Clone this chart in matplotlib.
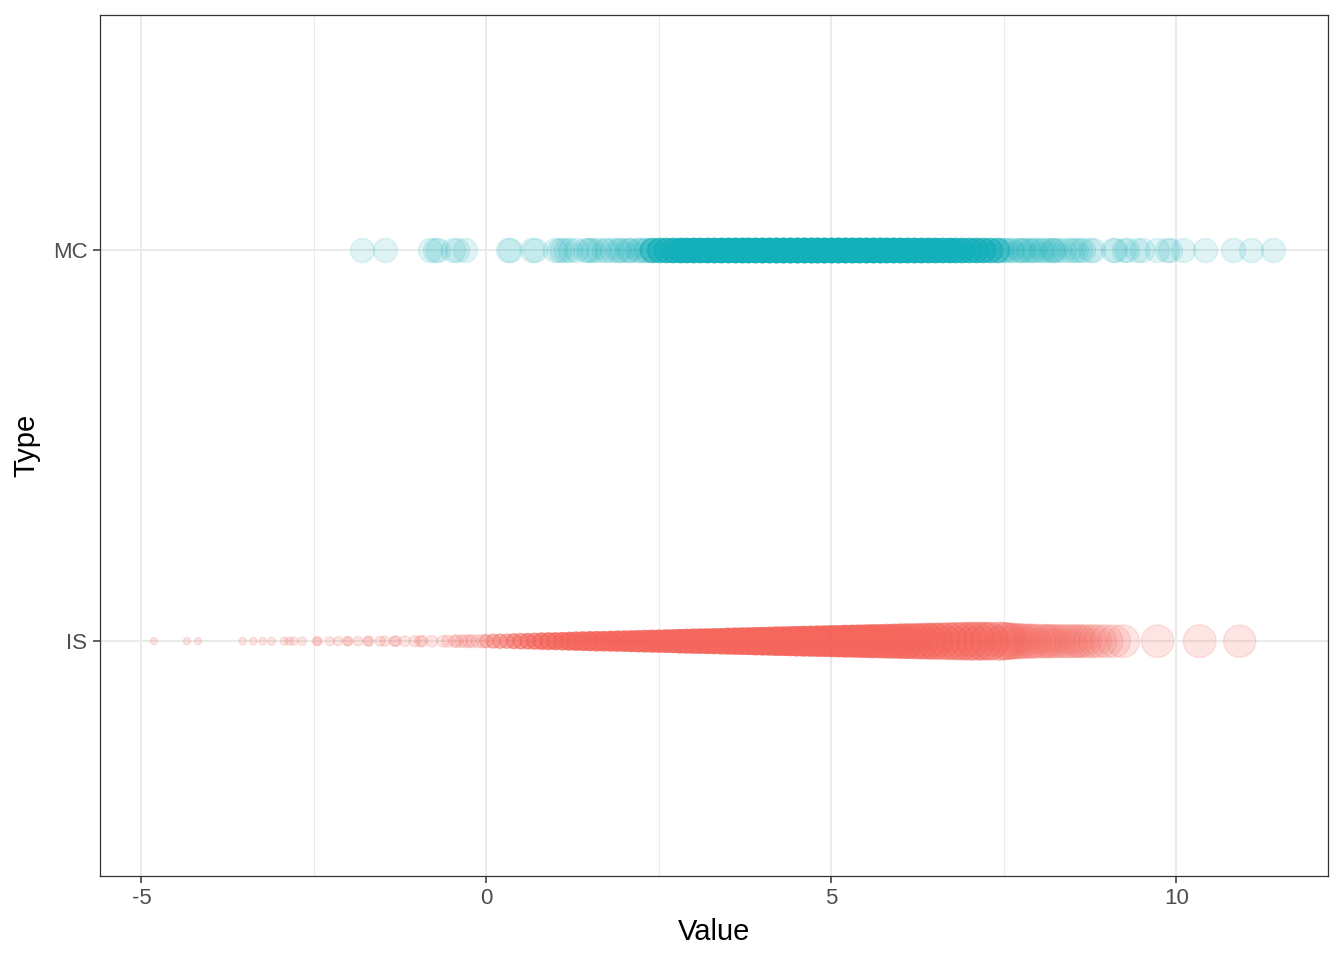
import numpy as np
import matplotlib
matplotlib.use('Agg')
import matplotlib.pyplot as plt

plt.rcParams['font.family'] = ['Liberation Sans', 'DejaVu Sans']
plt.rcParams['axes.unicode_minus'] = False

# ---- data ----
categories = ['IS', 'MC']

# MC: sparse tails as single samples, dense core as (value, count)
mc_tail_values = [-1.80, -1.47, -0.82, -0.75, -0.70, -0.48, -0.43, -0.31,
                  0.31, 0.34, 0.66, 0.70, 0.99, 1.05, 1.09, 1.15, 1.21,
                  1.30, 1.43, 1.47, 1.50, 1.55, 1.62, 1.70, 1.75, 1.82,
                  1.89, 1.93, 1.96, 2.04, 2.07, 2.10, 2.18, 2.22, 2.25,
                  2.30, 2.33, 2.38,
                  7.45, 7.48, 7.52, 7.55, 7.60, 7.62, 7.70, 7.73, 7.76,
                  7.80, 7.85, 7.88, 7.92, 7.95, 8.02, 8.05, 8.10, 8.15,
                  8.20, 8.22, 8.25, 8.30, 8.38, 8.45, 8.50, 8.55, 8.60,
                  8.65, 8.75, 8.80, 9.08, 9.11, 9.25, 9.28, 9.43, 9.50,
                  9.72, 9.86, 9.91, 10.10, 10.42, 10.83, 11.09, 11.40]
mc_core_values = [2.4, 2.5, 2.6, 2.7, 2.8, 2.9, 3.0, 3.1, 3.2, 3.3, 3.4,
                  3.5, 3.6, 3.7, 3.8, 3.9, 4.0, 4.1, 4.2, 4.3, 4.4,
                  4.5, 4.6, 4.7, 4.8, 4.9, 5.0, 5.1, 5.2, 5.3, 5.4,
                  5.5, 5.6, 5.7, 5.8, 5.9, 6.0, 6.1, 6.2, 6.3, 6.4,
                  6.5, 6.6, 6.7, 6.8, 6.9, 7.0, 7.1, 7.2, 7.3, 7.4]
mc_core_counts = [5, 7, 8, 9, 10, 11, 12, 12, 13, 13, 14,
                  15, 16, 16, 17, 17, 18, 18, 19, 19, 20,
                  20, 20, 20, 20, 20, 20, 20, 19, 19, 18,
                  18, 17, 17, 16, 16, 15, 14, 13, 12, 12,
                  11, 10, 10, 9, 9, 8, 8, 7, 6, 5]

# IS: sparse tails (value, weight), dense core (value, count, weight)
is_tail_values = [-4.82, -4.34, -4.18, -3.53, -3.38, -3.24, -3.11, -2.93,
                  -2.86, -2.79, -2.67, -2.46, -2.44, -2.27, -2.15, -2.02,
                  -2.00, -1.86, -1.72, -1.70, -1.54, -1.47, -1.33, -1.31,
                  -1.18, -1.04, -0.96, -0.93, -0.79, -0.63, -0.56, -0.46,
                  -0.43, -0.36, -0.30, -0.25, -0.20, -0.12, -0.05,
                  7.40, 7.45, 7.49, 7.52, 7.55, 7.58, 7.62, 7.66, 7.70,
                  7.74, 7.78, 7.83, 7.88, 7.92, 7.95, 8.02, 8.08, 8.12,
                  8.16, 8.20, 8.25, 8.30, 8.36, 8.41, 8.47, 8.53, 8.58,
                  8.62, 8.68, 8.75, 8.82, 8.90, 8.99, 9.10, 9.23, 9.73,
                  10.34, 10.92]
is_tail_weights = [0.034, 0.035, 0.036, 0.039, 0.040, 0.041, 0.043, 0.045,
                   0.046, 0.047, 0.049, 0.052, 0.052, 0.055, 0.057, 0.059,
                   0.060, 0.062, 0.065, 0.066, 0.069, 0.071, 0.074, 0.075,
                   0.078, 0.082, 0.085, 0.086, 0.091, 0.097, 0.100, 0.104,
                   0.106, 0.109, 0.112, 0.114, 0.116, 0.118, 0.120,
                   0.99, 1.00, 0.98, 0.95, 0.92, 0.90, 0.88, 0.86, 0.85,
                   0.84, 0.82, 0.81, 0.80, 0.79, 0.78, 0.78, 0.77, 0.76,
                   0.76, 0.76, 0.75, 0.75, 0.75, 0.75, 0.75, 0.75, 0.74,
                   0.74, 0.74, 0.76, 0.74, 0.74, 0.74, 0.73, 0.74, 0.73,
                   0.74, 0.72]
is_core_values = [0.0, 0.1, 0.2, 0.3, 0.4, 0.5, 0.6, 0.7, 0.8, 0.9,
                  1.0, 1.1, 1.2, 1.3, 1.4, 1.5, 1.6, 1.7, 1.8, 1.9,
                  2.0, 2.1, 2.2, 2.3, 2.4, 2.5, 2.6, 2.7, 2.8, 2.9,
                  3.0, 3.1, 3.2, 3.3, 3.4, 3.5, 3.6, 3.7, 3.8, 3.9,
                  4.0, 4.1, 4.2, 4.3, 4.4, 4.5, 4.6, 4.7, 4.8, 4.9,
                  5.0, 5.1, 5.2, 5.3, 5.4, 5.5, 5.6, 5.7, 5.8, 5.9,
                  6.0, 6.1, 6.2, 6.3, 6.4, 6.5, 6.6, 6.7, 6.8, 6.9,
                  7.0, 7.1, 7.2, 7.3]
is_core_counts = [2, 3, 3, 3, 4, 4, 5, 5, 6, 6,
                  7, 7, 8, 8, 8, 8, 8, 8, 8, 8,
                  8, 8, 8, 8, 8, 8, 8, 8, 8, 8,
                  8, 8, 8, 8, 8, 8, 8, 8, 8, 8,
                  8, 8, 8, 8, 8, 8, 8, 8, 7, 7,
                  7, 7, 7, 6, 6, 6, 6, 5, 5, 5,
                  5, 5, 4, 4, 4, 4, 3, 3, 3, 3,
                  3, 3, 3, 3]
is_core_weights = [0.12, 0.13, 0.14, 0.14, 0.15, 0.16, 0.16, 0.17, 0.18, 0.19,
                   0.19, 0.20, 0.21, 0.22, 0.23, 0.24, 0.25, 0.25, 0.26, 0.27,
                   0.28, 0.29, 0.30, 0.31, 0.32, 0.33, 0.34, 0.35, 0.37, 0.38,
                   0.39, 0.40, 0.41, 0.42, 0.43, 0.45, 0.46, 0.47, 0.48, 0.50,
                   0.51, 0.52, 0.54, 0.55, 0.56, 0.58, 0.59, 0.60, 0.62, 0.63,
                   0.65, 0.66, 0.68, 0.69, 0.71, 0.72, 0.74, 0.75, 0.77, 0.78,
                   0.80, 0.82, 0.83, 0.85, 0.87, 0.88, 0.90, 0.92, 0.94, 0.95,
                   0.97, 0.98, 0.97, 0.96]

x_ticks = [-5, 0, 5, 10]

# ---- assemble samples ----
mc_x = np.concatenate([mc_tail_values,
                       np.repeat(mc_core_values, mc_core_counts)])
is_x = np.concatenate([is_tail_values,
                       np.repeat(is_core_values, is_core_counts)])
is_w = np.concatenate([is_tail_weights,
                       np.repeat(is_core_weights, is_core_counts)])

mc_color = '#12B0BA'
is_color = '#F5665C'
max_area = 750   # marker area (pt^2) for weight 1
mc_area = 300

fig = plt.figure(figsize=(13.44, 9.6), dpi=100)
ax = fig.add_axes([100 / 1344, 84 / 960, 1228 / 1344, 861 / 960])

ax.scatter(is_x, np.full(len(is_x), 0), s=max_area * is_w, color=is_color,
           alpha=0.17, linewidths=1.0, edgecolors=is_color, zorder=3)
ax.scatter(mc_x, np.full(len(mc_x), 1), s=mc_area, color=mc_color,
           alpha=0.13, linewidths=1.0, edgecolors=mc_color, zorder=3)

ax.set_xlim(-5.6, 12.2)
ax.set_ylim(-0.6, 1.6)
ax.set_yticks([0, 1])
ax.set_yticklabels(categories)
ax.set_xticks(x_ticks)
ax.set_xticklabels([str(t) for t in x_ticks])
ax.set_xticks([-2.5, 2.5, 7.5], minor=True)

ax.grid(True, which='major', color='#EBEBEB', linewidth=1.5, zorder=0)
ax.grid(True, which='minor', axis='x', color='#EBEBEB', linewidth=0.75,
        zorder=0)
ax.set_axisbelow(True)

for spine in ax.spines.values():
    spine.set_color('#333333')
    spine.set_linewidth(0.9)

ax.tick_params(which='major', length=5, width=1.1, color='#333333',
               labelcolor='#4D4D4D', labelsize=16, pad=4)
ax.tick_params(which='minor', length=0)

ax.set_xlabel('Value', fontsize=21, labelpad=6)
ax.set_ylabel('Type', fontsize=21, labelpad=9)

fig.savefig('out.png', dpi=100)
